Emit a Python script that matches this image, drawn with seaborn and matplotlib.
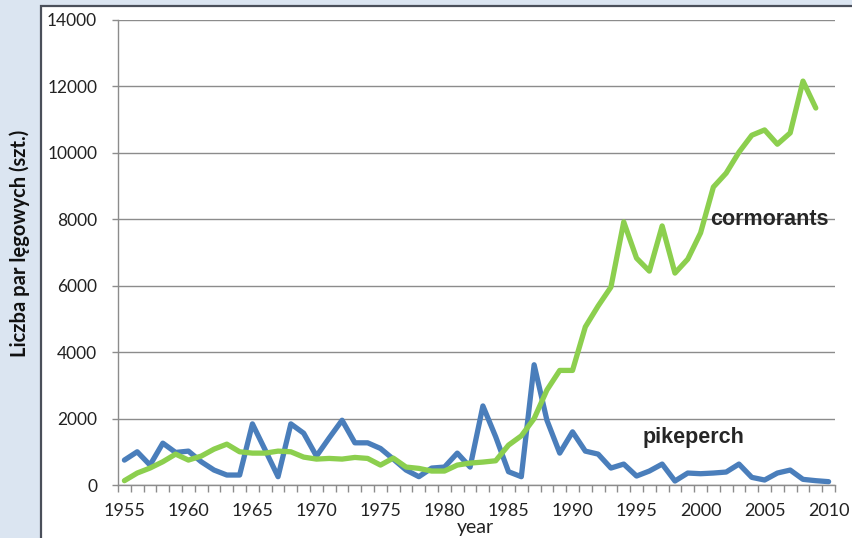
import matplotlib
matplotlib.use('Agg')
import matplotlib.pyplot as plt
import matplotlib.patches as mpatches
import seaborn as sns
import pandas as pd
import numpy as np

# data
years = list(range(1955, 2011))
pikeperch = [750, 1000, 600, 1260, 980, 1020, 700, 450, 300, 300,
             1840, 1050, 250, 1840, 1560, 870, 1420, 1950, 1270, 1270,
             1100, 780, 450, 250, 510, 540, 960, 540, 2380, 1450,
             400, 250, 3620, 1950, 960, 1600, 1020, 930, 510, 630,
             270, 420, 630, 120, 360, 340, 360, 390, 630, 230,
             150, 360, 450, 170, 130, 100]
cormorants = [130, 360, 510, 700, 930, 750, 870, 1080, 1230, 1000,
              960, 960, 1020, 1000, 840, 780, 800, 780, 830, 800,
              600, 810, 540, 500, 420, 420, 600, 660, 690, 730,
              1200, 1480, 2000, 2860, 3450, 3450, 4760, 5390, 5960, 7920,
              6830, 6440, 7800, 6380, 6800, 7590, 8970, 9390, 10020, 10530,
              10690, 10260, 10600, 12160, 11350, np.nan]
y_ticks = [0, 2000, 4000, 6000, 8000, 10000, 12000, 14000]
x_labels = [1955, 1960, 1965, 1970, 1975, 1980, 1985, 1990, 1995, 2000, 2005, 2010]

df = pd.DataFrame({'year': years, 'pikeperch': pikeperch, 'cormorants': cormorants})

sns.set_style('white')
plt.rcParams['font.family'] = ['Lato', 'DejaVu Sans']

fig = plt.figure(figsize=(8.53, 5.38), dpi=100, facecolor='#dbe5f1')

# white panel with dark border (left/top visible)
panel = mpatches.Rectangle((41 / 853, -0.1), 1.0, 1.1 - 6 / 538,
                           transform=fig.transFigure, facecolor='white',
                           edgecolor='#4a4f5a', linewidth=1.6, zorder=-5)
fig.patches.append(panel)

ax = fig.add_axes([118 / 853, 1 - 485 / 538, (835 - 118) / 853, (485 - 20) / 538])
ax.patch.set_alpha(0)

sns.lineplot(data=df, x='year', y='pikeperch', ax=ax, color='#4a7ebb', linewidth=3.8)
sns.lineplot(data=df, x='year', y='cormorants', ax=ax, color='#8ccf4e', linewidth=3.8)

ax.set_xlim(1954.5, 2010.5)
ax.set_ylim(0, 14000)
ax.set_yticks(y_ticks)
ax.set_yticklabels([str(v) for v in y_ticks], fontsize=12.5, color='#222222')
ax.set_xticks(x_labels)
ax.set_xticklabels([str(v) for v in x_labels], fontsize=13, color='#222222')
ax.set_xticks(np.arange(1954.5, 2011, 1), minor=True)
ax.tick_params(axis='x', which='major', length=0, pad=13)
ax.tick_params(axis='x', which='minor', length=5, width=1, color='#8c8c8c', direction='out')
ax.tick_params(axis='y', which='major', length=4.5, width=1, color='#8c8c8c', direction='out', pad=10.5)
ax.tick_params(axis='y', which='both', left=True)
ax.tick_params(axis='x', which='both', bottom=True)

ax.grid(axis='y', color='#8c8c8c', linewidth=1)
ax.set_axisbelow(True)
for side in ['top', 'right']:
    ax.spines[side].set_visible(False)
for side in ['left', 'bottom']:
    ax.spines[side].set_color('#8c8c8c')
    ax.spines[side].set_linewidth(1)

ax.set_xlabel('year', fontsize=14, color='#222222')
ax.xaxis.set_label_coords((475 - 118) / 717, -(527 - 485) / 465)
ax.xaxis.label.set_va('center')
ax.set_ylabel('Liczba par lęgowych (szt.)', fontsize=14.5, fontweight='bold',
              color='#111111')
ax.yaxis.set_label_coords((20 - 118) / 717, (485 - 243) / 465)
ax.yaxis.label.set_va('center')

ax.text(2000.75, 7980, 'cormorants', fontsize=15.5, fontweight='bold',
        family=['Liberation Sans', 'DejaVu Sans'], ha='left', va='center')
ax.text(1995.5, 1445, 'pikeperch', fontsize=15.5, fontweight='bold',
        family=['Liberation Sans', 'DejaVu Sans'], ha='left', va='center')

fig.savefig('out.png', dpi=100, facecolor=fig.get_facecolor())
